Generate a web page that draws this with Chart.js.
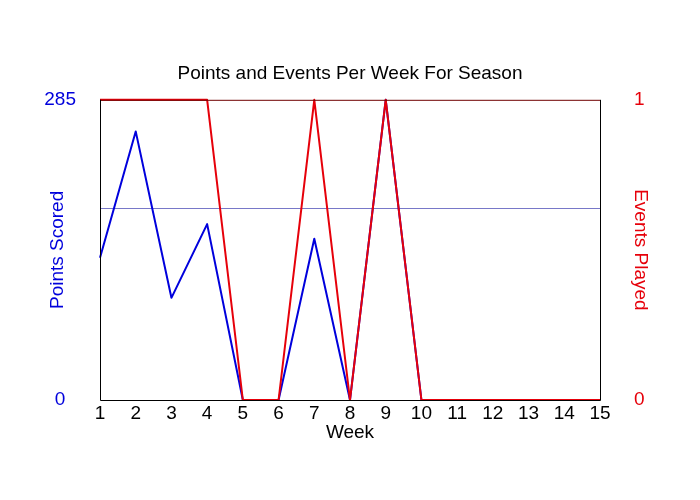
<!DOCTYPE html>
<html>
<head>
<meta charset="utf-8">
<script src="https://cdn.jsdelivr.net/npm/chart.js@4/dist/chart.umd.min.js"></script>
<style>
  body { margin: 0; background: #fff; }
</style>
</head>
<body>
<canvas id="season_chart" width="700" height="500"></canvas>
<script>
const weeks = ['1', '2', '3', '4', '5', '6', '7', '8', '9', '10', '11', '12', '13', '14', '15'];
const pointsScored = [135, 255, 97, 167, 0, 0, 153, 0, 285, 0, 0, 0, 0, 0, 0];
const eventsPlayed = [1, 1, 1, 1, 0, 0, 1, 0, 1, 0, 0, 0, 0, 0, 0];
const pointsTicks = [0, 285];
const eventsTicks = [0, 1];
const avgPoints = 182;

const font = { family: "'Liberation Sans', Arial, sans-serif", size: 19, weight: 'normal' };
const blue = 'rgb(0, 0, 220)';
const red = 'rgb(230, 0, 10)';

// average line + plot frame
const framePlugin = {
    id: 'frame',
    beforeDatasetsDraw(chart) {
        const { ctx, chartArea: a, scales } = chart;
        const y = Math.round(scales.yPoints.getPixelForValue(avgPoints)) + 0.5;
        ctx.save();
        ctx.strokeStyle = '#7878c8';
        ctx.lineWidth = 1;
        ctx.beginPath();
        ctx.moveTo(a.left, y);
        ctx.lineTo(a.right, y);
        ctx.stroke();
        ctx.restore();
    },
    afterDatasetsDraw(chart) {
        const { ctx, chartArea: a } = chart;
        ctx.save();
        ctx.lineWidth = 1;
        ctx.strokeStyle = '#700000';
        ctx.beginPath();
        ctx.moveTo(a.left, a.top + 0.5);
        ctx.lineTo(a.right, a.top + 0.5);
        ctx.stroke();
        ctx.strokeStyle = '#000';
        ctx.beginPath();
        ctx.moveTo(a.left + 0.5, a.top);
        ctx.lineTo(a.left + 0.5, a.bottom + 0.5);
        ctx.lineTo(a.right + 0.5, a.bottom + 0.5);
        ctx.lineTo(a.right + 0.5, a.top);
        ctx.stroke();
        ctx.restore();
    }
};

new Chart(document.getElementById('season_chart'), {
    type: 'line',
    data: {
        labels: weeks,
        datasets: [{
            label: 'Events Played',
            data: eventsPlayed,
            yAxisID: 'yEvents',
            borderColor: red,
            borderWidth: 2,
            borderJoinStyle: 'round',
            pointRadius: 0,
            tension: 0,
            clip: false,
            order: 0
        }, {
            label: 'Points Scored',
            data: pointsScored,
            yAxisID: 'yPoints',
            borderColor: blue,
            borderWidth: 2,
            borderJoinStyle: 'round',
            pointRadius: 0,
            tension: 0,
            clip: false,
            order: 1
        }]
    },
    options: {
        responsive: false,
        animation: false,
        layout: { padding: 0 },
        plugins: {
            legend: { display: false },
            tooltip: { enabled: false },
            title: {
                display: true,
                text: 'Points and Events Per Week For Season',
                color: '#000',
                font: { family: font.family, size: 19, weight: 'normal' },
                padding: { top: 62, bottom: 15 }
            }
        },
        scales: {
            x: {
                offset: false,
                grid: { display: false, drawTicks: false },
                border: { display: false },
                ticks: { color: '#000', font: font, padding: 2, maxRotation: 0, autoSkip: false },
                title: { display: true, text: 'Week', color: '#000', font: font, padding: { top: 0, bottom: 56 } },
                afterFit(scale) { scale.height = 100; }
            },
            yPoints: {
                position: 'left',
                min: 0,
                max: 285,
                grid: { display: false, drawTicks: false },
                border: { display: false },
                afterBuildTicks(scale) { scale.ticks = pointsTicks.map(v => ({ value: v })); },
                ticks: { color: blue, font: font, padding: 24, crossAlign: 'center' },
                title: { display: true, text: 'Points Scored', color: blue, font: font, padding: { top: 46 } },
                afterFit(scale) { scale.width = 100; }
            },
            yEvents: {
                position: 'right',
                min: 0,
                max: 1,
                grid: { display: false, drawTicks: false },
                border: { display: false },
                afterBuildTicks(scale) { scale.ticks = eventsTicks.map(v => ({ value: v })); },
                ticks: { color: red, font: font, padding: 34, crossAlign: 'center' },
                title: { display: true, text: 'Events Played', color: red, font: font, padding: { top: 48 } },
                afterFit(scale) { scale.width = 100; }
            }
        }
    },
    plugins: [framePlugin]
});
</script>
</body>
</html>
